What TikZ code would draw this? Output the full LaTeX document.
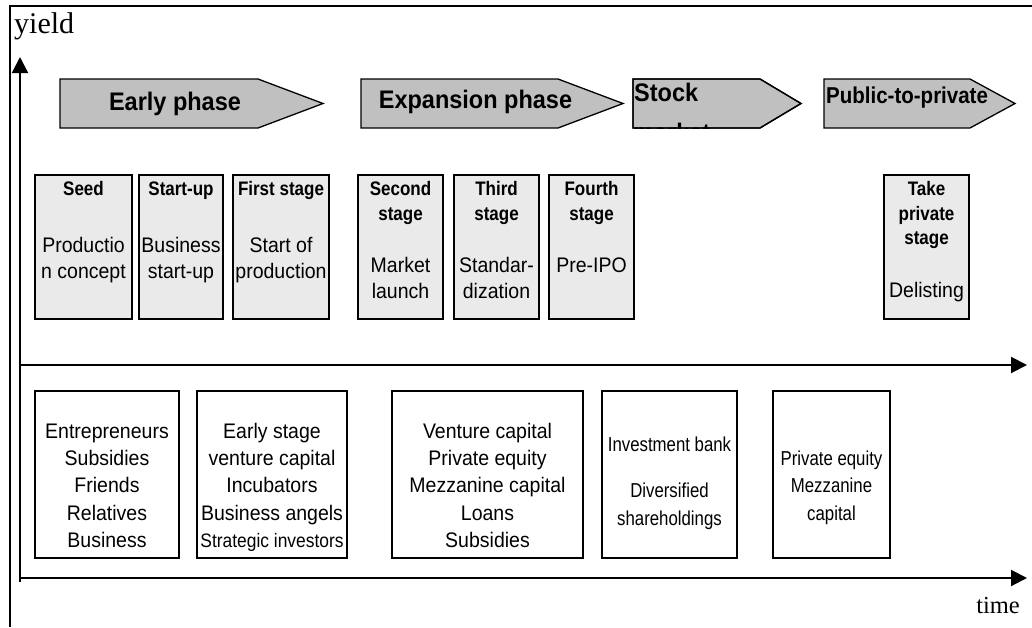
\documentclass[tikz,border=0pt]{standalone}
\usepackage{fontspec}
\setmainfont{Liberation Sans}
\newfontfamily\tnr{Liberation Serif}
\usetikzlibrary{arrows.meta}
\definecolor{phasegray}{RGB}{192,192,192}
\definecolor{stagefill}{RGB}{234,234,234}
\def\vsf{1}
\newcommand{\vs}[1]{\scalebox{1}[\vsf]{#1}}
\tikzset{
  axisline/.style={line width=2pt,-{Triangle[length=16pt,width=16pt]}},
  frameline/.style={line width=1.4pt},
  phaseshape/.style={draw=black,line width=1.3pt,fill=phasegray,line join=miter},
  stagebox/.style={draw=black,line width=2.4pt,fill=stagefill,inner sep=0pt,minimum height=144pt},
  fundbox/.style={draw=black,line width=1.6pt,fill=white,inner sep=0pt,minimum height=167pt},
  ptext/.style={font=\fontsize{23.5}{28}\selectfont\bfseries\def\vsf{1.08},inner sep=0pt,anchor=base},
  stitle/.style={font=\fontsize{17}{20}\selectfont\bfseries\def\vsf{1.15},inner sep=0pt,anchor=base},
  sbody/.style={font=\fontsize{19.5}{23}\selectfont\def\vsf{1.08},inner sep=0pt,anchor=base},
  ftext/.style={font=\fontsize{19.5}{23}\selectfont\def\vsf{1.08},inner sep=0pt,anchor=base},
  fsmall/.style={font=\fontsize{16.8}{20}\selectfont\def\vsf{1.2},inner sep=0pt,anchor=base},
  axlabel/.style={font=\tnr\fontsize{28}{32}\selectfont,inner sep=0pt}
}
\begin{document}
\begin{tikzpicture}[x=1pt,y=-1pt]
\useasboundingbox (0,0) rectangle (1032,627);
% frame
\coordinate (ftl) at (10,6);
\coordinate (ftr) at (1032,6);
\coordinate (fbl) at (10,627);
\draw[frameline] (ftr) -- (ftl) -- (fbl);
% axes
\coordinate (origin) at (20,582);
\coordinate (ytop) at (20,57);
\coordinate (midl) at (20,365);
\coordinate (midr) at (1027,365);
\coordinate (botl) at (20,578);
\coordinate (botr) at (1027,578);
\draw[axisline] (origin) -- (ytop);
\draw[axisline] (midl) -- (midr);
\draw[axisline] (botl) -- (botr);
\node[axlabel,anchor=base west,font=\tnr\fontsize{30}{33}\selectfont] (yield) at (14,33) {yield};
\node[axlabel,anchor=base east,font=\tnr\fontsize{24.5}{28}\selectfont] (time) at (1020,613) {time};
% phases
\draw[phaseshape] (60,79) -- (258,79) -- (323,103.5) -- (258,128) -- (60,128) -- cycle;
\node[ptext] (early) at (175,110) {\vs{Early phase}};
\draw[phaseshape] (361,79) -- (558,79) -- (623,103.5) -- (558,128) -- (361,128) -- cycle;
\node[ptext] (expansion) at (475.5,108) {\vs{Expansion phase}};
\draw[phaseshape] (633,79) -- (760,79) -- (801,103.5) -- (760,128) -- (633,128) -- cycle;
\begin{scope}
\clip (633,79) -- (760,79) -- (801,103.5) -- (760,128) -- (633,128) -- cycle;
\node[ptext,anchor=base west] (stock) at (634,101) {\vs{Stock}};
\node[ptext,anchor=base west] (market) at (633,141) {\vs{market}};
\end{scope}
\draw[draw=black,line width=1.3pt] (633,79) -- (760,79) -- (801,103.5) -- (760,128) -- (633,128) -- cycle;
\draw[phaseshape] (824,79) -- (970,79) -- (1015,103.5) -- (970,128) -- (824,128) -- cycle;
\node[ptext,anchor=base west,font=\fontsize{20.5}{24}\selectfont\bfseries\def\vsf{1.12}] (ptp) at (826,103) {\vs{Public-to-private}};
% stage boxes
\node[stagebox,minimum width=97pt] (seed) at (83.5,247) {};
\node[stagebox,minimum width=84pt] (startup) at (181,247) {};
\node[stagebox,minimum width=96pt] (first) at (281,247) {};
\node[stagebox,minimum width=85pt] (second) at (400.5,247) {};
\node[stagebox,minimum width=85pt] (third) at (496.5,247) {};
\node[stagebox,minimum width=85pt] (fourth) at (591.5,247) {};
\node[stagebox,minimum width=85pt] (take) at (926.5,247) {};
% stage texts
\node[stitle] (seedT) at (83.5,195) {\vs{Seed}};
\node[sbody] (seedA) at (83.5,252) {\vs{Productio}};
\node[sbody] (seedB) at (83.5,278.5) {\vs{n concept}};
\node[stitle] (startupT) at (181,195) {\vs{Start-up}};
\node[sbody] (startupA) at (181,252) {\vs{Business}};
\node[sbody] (startupB) at (181,278.5) {\vs{start-up}};
\node[stitle] (firstT) at (281,195) {\vs{First stage}};
\node[sbody] (firstA) at (281,252) {\vs{Start of}};
\node[sbody] (firstB) at (281,278.5) {\vs{production}};
\node[stitle] (secondT) at (400.5,195) {\vs{Second}};
\node[stitle] (secondU) at (400.5,220) {\vs{stage}};
\node[sbody] (secondA) at (400.5,272) {\vs{Market}};
\node[sbody] (secondB) at (400.5,298.5) {\vs{launch}};
\node[stitle] (thirdT) at (496.5,195) {\vs{Third}};
\node[stitle] (thirdU) at (496.5,220) {\vs{stage}};
\node[sbody] (thirdA) at (496.5,272) {\vs{Standar-}};
\node[sbody] (thirdB) at (496.5,298.5) {\vs{dization}};
\node[stitle] (fourthT) at (591.5,195) {\vs{Fourth}};
\node[stitle] (fourthU) at (591.5,220) {\vs{stage}};
\node[sbody] (fourthA) at (591.5,272) {\vs{Pre-IPO}};
\node[stitle] (takeT) at (926.5,195) {\vs{Take}};
\node[stitle] (takeU) at (926.5,220) {\vs{private}};
\node[stitle] (takeV) at (926.5,244) {\vs{stage}};
\node[sbody] (takeA) at (926.5,297) {\vs{Delisting}};
% funding boxes
\node[fundbox,minimum width=144pt] (f1) at (107,474.5) {};
\node[fundbox,minimum width=150pt] (f2) at (272,474.5) {};
\node[fundbox,minimum width=191pt] (f3) at (487.5,474.5) {};
\node[fundbox,minimum width=135pt] (f4) at (669.5,474.5) {};
\node[fundbox,minimum width=117pt] (f5) at (831.5,474.5) {};
\node[ftext] (f1a) at (107,438) {\vs{Entrepreneurs}};
\node[ftext] (f1b) at (107,465) {\vs{Subsidies}};
\node[ftext] (f1c) at (107,492) {\vs{Friends}};
\node[ftext] (f1d) at (107,520) {\vs{Relatives}};
\node[ftext] (f1e) at (107,547) {\vs{Business}};
\node[ftext] (f2a) at (272,438) {\vs{Early stage}};
\node[ftext] (f2b) at (272,465) {\vs{venture capital}};
\node[ftext] (f2c) at (272,492) {\vs{Incubators}};
\node[ftext] (f2d) at (272,520) {\vs{Business angels}};
\node[ftext,font=\fontsize{17.4}{21}\selectfont\def\vsf{1.12}] (f2e) at (272,547) {\vs{Strategic investors}};
\node[ftext] (f3a) at (487.5,438) {\vs{Venture capital}};
\node[ftext] (f3b) at (487.5,465) {\vs{Private equity}};
\node[ftext] (f3c) at (487.5,492) {\vs{Mezzanine capital}};
\node[ftext] (f3d) at (487.5,520) {\vs{Loans}};
\node[ftext] (f3e) at (487.5,547) {\vs{Subsidies}};
\node[fsmall] (f4a) at (669.5,451) {\vs{Investment bank}};
\node[fsmall] (f4b) at (669.5,497) {\vs{Diversified}};
\node[fsmall] (f4c) at (669.5,525) {\vs{shareholdings}};
\node[fsmall] (f5a) at (831.5,465) {\vs{Private equity}};
\node[fsmall] (f5b) at (831.5,492) {\vs{Mezzanine}};
\node[fsmall] (f5c) at (831.5,520) {\vs{capital}};
\end{tikzpicture}
\end{document}
